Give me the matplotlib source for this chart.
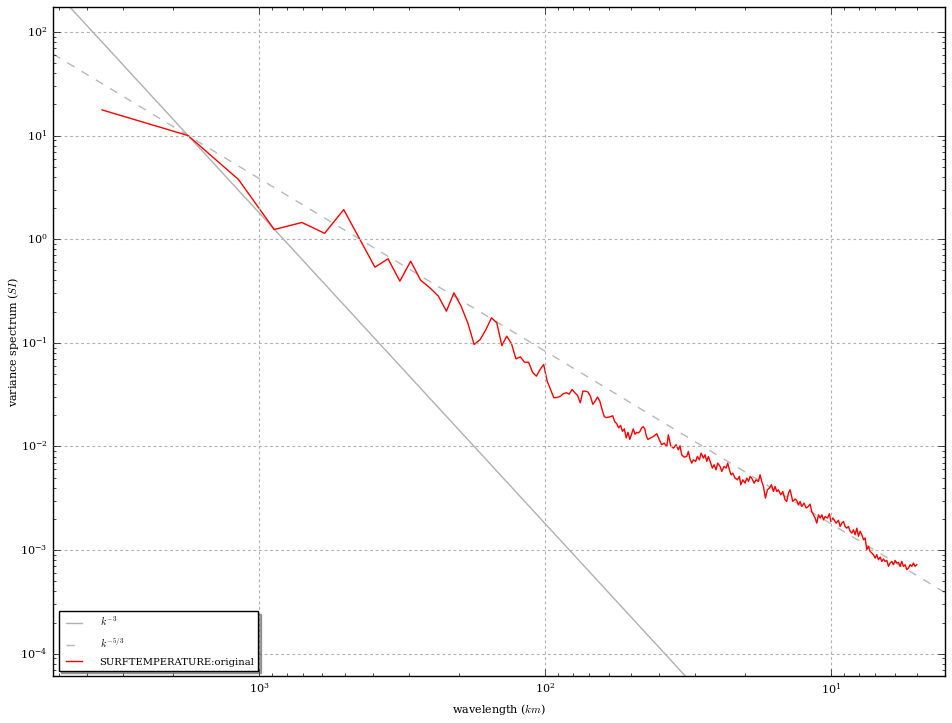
import matplotlib
matplotlib.use("Agg")
import matplotlib.pyplot as plt
import numpy as np

plt.style.use("classic")
plt.rcParams["font.family"] = ["DejaVu Serif"]
plt.rcParams["mathtext.fontset"] = "cm"
plt.rcParams["font.size"] = 8

# ---- data ----
domain_km = 3540.0  # wavelength = domain_km / wavenumber index

wavenumber_low = list(range(1, 82))
spectrum_low = [
    17.7, 10.0, 3.77, 1.24, 1.45, 1.14, 1.93, 0.98, 0.537, 0.647,
    0.394, 0.614, 0.402, 0.340, 0.282, 0.202, 0.304, 0.226, 0.156, 0.0964,
    0.1077, 0.1345, 0.1745, 0.156, 0.094, 0.116, 0.0986, 0.070, 0.0733, 0.065,
    0.065, 0.052, 0.0477, 0.0553, 0.0618, 0.0427, 0.0355, 0.0295, 0.0297, 0.0305,
    0.0323, 0.0330, 0.0320, 0.0355, 0.0330, 0.0310, 0.0264, 0.0342, 0.0342, 0.0335,
    0.0305, 0.0255, 0.0274, 0.0300, 0.0274, 0.0228, 0.0194, 0.0190, 0.0192, 0.0194,
    0.0198, 0.0174, 0.0166, 0.0151, 0.0160, 0.0140, 0.0148, 0.0121, 0.0137, 0.0117,
    0.0131, 0.0148, 0.0131, 0.0137, 0.0135, 0.0140, 0.0151, 0.0155, 0.0148, 0.0126,
    0.0117,
]

wavenumber_high = [
    84.7, 87.0, 88.8, 90.5, 92.3, 94.3, 95.5, 97.3, 99.5, 101.6,
    103.5, 104.9, 106.3, 108.4, 110.7, 112.2, 113.7, 115.3, 116.8, 119.0,
    120.6, 122.6, 124.3, 126.6, 128.3, 130.1, 131.8, 134.3, 136.1, 138.0,
    140.2, 142.1, 144.8, 146.8, 149.5, 152.0, 154.0, 156.1, 158.2, 160.4,
    163.4, 166.5, 169.2, 171.1, 173.9, 177.1, 179.6, 182.0, 184.4, 186.9,
    190.4, 193.5, 197.1, 199.8, 202.5, 205.3, 208.6, 212.0, 215.4, 218.9,
    222.5, 225.5, 228.5, 231.6, 236.0, 239.9, 244.4, 247.7, 251.0, 254.4,
    260.0, 264.9, 268.5, 272.1, 275.8, 279.5, 284.8, 289.4, 294.9, 298.9,
    302.9, 307.0, 311.2, 315.4, 319.7, 324.0, 328.4, 332.8, 337.3, 343.7,
    349.3, 353.1, 358.8, 362.6, 368.5, 375.5, 380.6, 385.7, 391.0, 396.2,
    401.6, 407.0, 412.5, 418.1, 423.7, 429.5, 435.3, 441.1, 447.1, 453.1,
    459.2, 465.4, 471.7, 478.1, 484.5, 491.1, 497.7, 504.5, 511.2, 518.1,
    525.2, 532.3, 539.4, 546.7, 554.2, 561.6, 569.2, 576.8, 584.7, 592.5,
    600.5, 608.7, 616.9, 625.2, 633.6, 642.3, 650.9, 659.7, 668.6, 677.7,
    686.8, 696.0, 705.5,
]
spectrum_high = [
    0.01250, 0.01327, 0.01161, 0.01040, 0.01079, 0.01000, 0.01297, 0.01016, 0.00964, 0.01040,
    0.00930, 0.01016, 0.00832, 0.00790, 0.00802, 0.00895, 0.00755, 0.00691, 0.00744, 0.00718,
    0.00802, 0.00744, 0.00863, 0.00773, 0.00832, 0.00718, 0.00802, 0.00691, 0.00619, 0.00666,
    0.00596, 0.00691, 0.00642, 0.00574, 0.00642, 0.00619, 0.00691, 0.00596, 0.00533, 0.00553,
    0.00495, 0.00477, 0.00514, 0.00427, 0.00477, 0.00443, 0.00495, 0.00460, 0.00514, 0.00495,
    0.00443, 0.00477, 0.00460, 0.00533, 0.00460, 0.00412, 0.00318, 0.00382, 0.00397, 0.00428,
    0.00368, 0.00412, 0.00368, 0.00382, 0.00342, 0.00368, 0.00306, 0.00295, 0.00355, 0.00382,
    0.00295, 0.00311, 0.00301, 0.00274, 0.00295, 0.00264, 0.00284, 0.00255, 0.00264, 0.00278,
    0.00236, 0.00219, 0.00204, 0.00182, 0.00219, 0.00204, 0.00219, 0.00196, 0.00211, 0.00204,
    0.00224, 0.00189, 0.00204, 0.00196, 0.00182, 0.00194, 0.00169, 0.00182, 0.00189, 0.00169,
    0.00163, 0.00169, 0.00152, 0.00146, 0.00157, 0.00141, 0.00163, 0.00136, 0.00152, 0.00141,
    0.00126, 0.00131, 0.00101, 0.00109, 0.000973, 0.000937, 0.000903, 0.000838, 0.000903, 0.000808,
    0.000857, 0.000778, 0.000820, 0.000778, 0.000796, 0.000697, 0.000750, 0.000778, 0.000723, 0.000796,
    0.000750, 0.000761, 0.000697, 0.000778, 0.000697, 0.000723, 0.000647, 0.000671, 0.000723, 0.000697,
    0.000750, 0.000697, 0.000723,
]

# reference slopes anchored at the second spectral point
ref_wavelength = 1770.0
ref_value = 10.0
slope_steep = 3.0
slope_kolmogorov = 5.0 / 3.0

xlim = (5250.0, 4.0)
ylim = (6.1e-5, 174.0)

# ---- plot ----
fig = plt.figure(figsize=(9.52, 7.23), dpi=100, facecolor="white")
ax = fig.add_axes([0.0557, 0.065, 0.9369, 0.9253])

wl = domain_km / np.array(wavenumber_low + wavenumber_high, dtype=float)
spec = np.array(spectrum_low + spectrum_high)

ref_x = np.array(xlim)
ax.plot(ref_x, ref_value * (ref_x / ref_wavelength) ** slope_steep,
        color="#b0b0b0", lw=1.0, ls="-", label=r"$k^{-3}$")
ax.plot(ref_x, ref_value * (ref_x / ref_wavelength) ** slope_kolmogorov,
        color="#b8b8b8", lw=1.0, ls="--", label=r"$k^{-5/3}$")
ax.plot(wl, spec, color="red", lw=1.0, label="SURFTEMPERATURE:original")

ax.set_xscale("log")
ax.set_yscale("log")
ax.set_xlim(*xlim)
ax.set_ylim(*ylim)

ax.grid(True, which="major", color="#b0b0b0", linestyle=(0, (2, 2)), lw=0.8)
ax.tick_params(which="both", direction="in", top=True, right=True, labelsize=8)
ax.tick_params(which="major", length=5)
ax.tick_params(which="minor", length=2.5)

ax.set_xlabel(r"wavelength ($km$)", fontsize=8, labelpad=4)
ax.set_ylabel(r"variance spectrum ($SI$)", fontsize=8, labelpad=-0.5)

leg = ax.legend(loc="lower left", shadow=True, fancybox=False, fontsize=7.2,
                numpoints=2, borderaxespad=0.55, handlelength=2.2,
                handletextpad=1.5, labelspacing=0.75)
leg.get_frame().set_edgecolor("black")

fig.savefig("out.png", dpi=100, facecolor="white")
